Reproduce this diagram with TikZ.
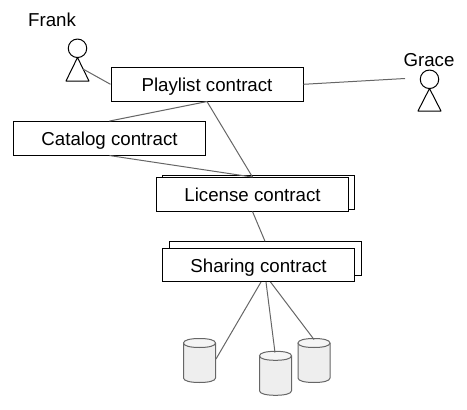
\documentclass[tikz,border=0pt]{standalone}
\usepackage{fontspec}
\setmainfont{Liberation Sans}
\definecolor{linkgray}{HTML}{666666}
\definecolor{bodygray}{HTML}{EEEEEE}
\definecolor{topgray}{HTML}{F5F5F5}
\tikzset{
  box/.style={draw=black,fill=white,line width=1pt,minimum width=192pt,minimum height=33.5pt,inner sep=0pt,text height=15pt,text depth=0pt,font=\fontsize{18.7}{20}\selectfont},
  backbox/.style={draw=black,fill=white,line width=1pt,minimum width=192pt,minimum height=33.5pt,inner sep=0pt},
  link/.style={draw=linkgray,line width=1pt},
  label/.style={inner sep=0pt,font=\fontsize{18.7}{20}\selectfont},
  head/.style={circle,draw=black,fill=white,line width=1pt,minimum size=18.5pt,inner sep=0pt},
  body/.style={draw=black,line width=1pt,line join=round},
  dbpic/.pic={
    \path[draw=linkgray,fill=bodygray,line width=1pt]
      (-16,-17) -- (-16,17.5) .. controls (-16,20.5) and (-9,22) .. (0,22)
      .. controls (9,22) and (16,20.5) .. (16,17.5) -- (16,-17) -- cycle;
    \path[draw=linkgray,fill=topgray,line width=1pt]
      (-16,-17.5) .. controls (-16,-20.5) and (-9,-22) .. (0,-22)
      .. controls (9,-22) and (16,-20.5) .. (16,-17.5)
      .. controls (16,-14.5) and (9,-13) .. (0,-13)
      .. controls (-9,-13) and (-16,-14.5) .. (-16,-17.5) -- cycle;
  }
}
\begin{document}
\begin{tikzpicture}[x=1pt,y=-1pt]
\useasboundingbox (0,0) rectangle (467,410);
% anchor points
\coordinate (frankhip) at (83,69);
\coordinate (graceleft) at (405,78.5);
\coordinate (sharea) at (261,282);
\coordinate (shareb) at (266,282);
\coordinate (sharec) at (270.5,282);
\coordinate (dbaend) at (216,359);
\coordinate (dbbend) at (275,352.5);
\coordinate (dbcend) at (314,339.5);
% back boxes
\node[backbox] (licenseback) at (258.5,192.3) {};
\node[backbox] (sharingback) at (265,258.5) {};
% main boxes
\node[box] (playlist) at (207,84.3) {Playlist contract};
\node[box] (catalog) at (109.5,138.3) {Catalog contract};
\node[box] (license) at (252.5,194.3) {License contract};
\node[box] (sharing) at (258.5,265) {Sharing contract};
% actors
\node[label] (frank) at (52,19.5) {Frank};
\node[label] (grace) at (429,60) {Grace};
\node[head] (frankhead) at (77.5,48.3) {};
\node[head] (gracehead) at (429.5,79.3) {};
\coordinate (frankapex) at (77.5,57.5);
\coordinate (graceapex) at (429.5,88.5);
\draw[body] (frankapex) -- (66,81) -- (89,81) -- cycle;
\draw[body] (graceapex) -- (418,111) -- (441,111) -- cycle;
% databases
\pic at (199.5,360.5) {dbpic};
\pic at (275.5,373.3) {dbpic};
\pic at (314,360.5) {dbpic};
% connectors
\draw[link] (frankhip) -- (playlist.west);
\draw[link] (playlist.east) -- (graceleft);
\draw[link] (playlist.south) -- (catalog.north);
\draw[link] (playlist.south) -- (license.north);
\draw[link] (catalog.south) -- (license.north);
\draw[link] (license.south) -- (sharingback.north);
\draw[link] (sharea) -- (dbaend);
\draw[link] (shareb) -- (dbbend);
\draw[link] (sharec) -- (dbcend);
\end{tikzpicture}
\end{document}
